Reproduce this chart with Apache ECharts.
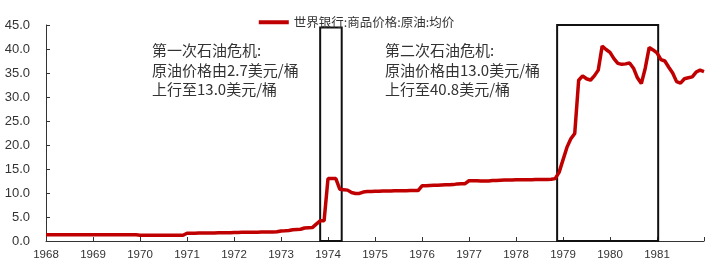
<!DOCTYPE html>
<html>
<head>
<meta charset="utf-8">
<script src="https://cdn.jsdelivr.net/npm/echarts@6/dist/echarts.min.js"></script>
<style>
html,body{margin:0;padding:0;background:#fff;}
#chart{width:713px;height:270px;}
</style>
</head>
<body>
<div id="chart"></div>
<script>
// Monthly values, World Bank crude oil average price (USD/bbl), Jan 1968 - Jan 1982
var seriesName = '世界银行:商品价格:原油:均价';
var y1968 = [1.30,1.30,1.30,1.30,1.30,1.30,1.29,1.29,1.29,1.29,1.29,1.29];
var y1969 = [1.28,1.28,1.28,1.28,1.28,1.28,1.28,1.28,1.28,1.28,1.28,1.28];
var y1970 = [1.21,1.21,1.21,1.21,1.21,1.21,1.21,1.21,1.21,1.21,1.21,1.21];
var y1971 = [1.62,1.62,1.63,1.65,1.65,1.66,1.68,1.68,1.70,1.70,1.72,1.72];
var y1972 = [1.78,1.78,1.80,1.80,1.82,1.82,1.84,1.85,1.86,1.88,1.90,1.92];
var y1973 = [2.10,2.12,2.20,2.35,2.40,2.45,2.70,2.75,2.80,3.50,4.20,4.20];
var y1974 = [13.0,13.0,13.0,10.8,10.7,10.6,10.1,9.9,9.9,10.2,10.3,10.3];
var y1975 = [10.35,10.35,10.4,10.4,10.4,10.45,10.45,10.45,10.45,10.5,10.5,10.5];
var y1976 = [11.5,11.5,11.55,11.6,11.6,11.65,11.7,11.7,11.75,11.9,11.95,11.95];
var y1977 = [12.55,12.55,12.55,12.5,12.5,12.5,12.6,12.6,12.65,12.7,12.7,12.7];
var y1978 = [12.75,12.75,12.75,12.75,12.75,12.8,12.8,12.8,12.8,12.85,13.0,14.3];
var y1979 = [16.9,19.5,21.3,22.4,33.5,34.4,33.8,33.5,34.4,35.6,40.6,39.9];
var y1980 = [39.3,38.0,37.0,36.8,36.9,37.1,36.0,34.0,32.8,36.0,40.3,39.8];
var y1981 = [39.2,37.8,37.5,36.2,35.0,33.2,32.9,33.8,34.0,34.2,35.2,35.6];
var y1982 = [35.3];
var yearTicks = ['1968','1969','1970','1971','1972','1973','1974','1975','1976','1977','1978','1979','1980','1981'];
var yTicks = [0,5,10,15,20,25,30,35,40,45];

// Annotation boxes (month index from Jan 1968, price)
var box1 = [[70, 0], [75.5, 44.5]];
var box2 = [[130.5, 0], [156.3, 45]];
var note1 = ['第一次石油危机:', '原油价格由2.7美元/桶', '上行至13.0美元/桶'];
var note2 = ['第二次石油危机:', '原油价格由13.0美元/桶', '上行至40.8美元/桶'];

var values = [].concat(y1968,y1969,y1970,y1971,y1972,y1973,y1974,y1975,y1976,y1977,y1978,y1979,y1980,y1981,y1982);
var points = values.map(function(v,i){return [i,v];});

var chart = echarts.init(document.getElementById('chart'));
var cjk = '"Noto Sans CJK SC", "Noto Sans", sans-serif';
chart.setOption({
  animation:false,
  backgroundColor:'#fff',
  legend:{
    top:11, left:'center',
    icon:'rect', itemWidth:30, itemHeight:4,
    textStyle:{fontSize:12.5, color:'#333', fontFamily:cjk},
    data:[seriesName]
  },
  grid:{left:46, right:9, top:25, bottom:29, containLabel:false},
  xAxis:{
    type:'value', min:0, max:168, interval:12,
    axisLine:{lineStyle:{color:'#333', width:1}},
    axisTick:{inside:true, length:4, lineStyle:{color:'#333'}},
    splitLine:{show:false},
    axisLabel:{
      margin:8, fontSize:11.5, color:'#333', fontFamily:'"Liberation Sans", Arial, sans-serif',
      formatter:function(v){ var k=Math.round(v/12); return k<yearTicks.length ? yearTicks[k] : ''; }
    }
  },
  yAxis:{
    type:'value', min:yTicks[0], max:yTicks[yTicks.length-1], interval:5,
    axisLine:{show:true, lineStyle:{color:'#333', width:1}},
    axisTick:{show:true, inside:true, length:4, lineStyle:{color:'#333'}},
    splitLine:{show:false},
    axisLabel:{margin:16, fontSize:13, color:'#333', fontFamily:'"Liberation Sans", Arial, sans-serif',
      formatter:function(v){return v.toFixed(1);}}
  },
  series:[{
    name:seriesName, type:'line', data:points,
    showSymbol:false, symbol:'none',
    lineStyle:{color:'#C00000', width:3.5},
    itemStyle:{color:'#C00000'},
    markArea:{
      silent:true,
      itemStyle:{color:'rgba(0,0,0,0)', borderColor:'#111', borderWidth:2},
      label:{show:false},
      data:[
        [{coord:box1[0]},{coord:box1[1]}],
        [{coord:box2[0]},{coord:box2[1]}]
      ]
    }
  }],
  graphic:[
    {type:'text', left:152, top:41, style:{text:note1.join('\n'), font:'15px '+cjk, fill:'#333', lineHeight:19.5}},
    {type:'text', left:385, top:41, style:{text:note2.join('\n'), font:'15px '+cjk, fill:'#333', lineHeight:19.5}}
  ]
});
</script>
</body>
</html>
